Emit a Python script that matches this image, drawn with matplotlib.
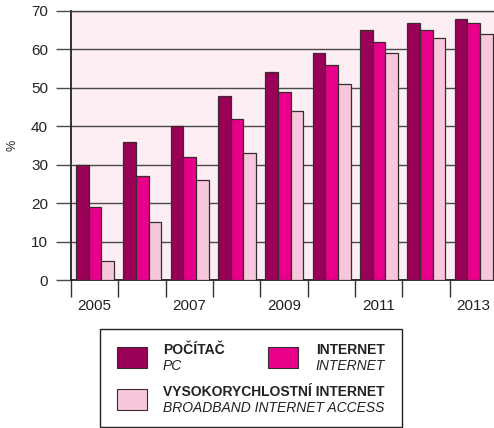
import matplotlib
matplotlib.use('Agg')
import matplotlib.pyplot as plt
from matplotlib.patches import Rectangle

plt.rcParams['font.family'] = ['Liberation Sans', 'DejaVu Sans']

years = [2005, 2006, 2007, 2008, 2009, 2010, 2011, 2012, 2013]
pc = [30, 36, 40, 48, 54, 59, 65, 67, 68]
internet = [19, 27, 32, 42, 49, 56, 62, 65, 67]
broadband = [5, 15, 26, 33, 44, 51, 59, 63, 64]

colors = ['#9b0058', '#e8008a', '#f7c8db']
W, H = 494, 428

fig = plt.figure(figsize=(W / 100, H / 100), dpi=100)
ax = fig.add_axes([71 / W, 1 - 280 / H, 426 / W, 269 / H])
ax.set_facecolor('#fdeef4')

bw = 0.268
off = 0.106
for k, (vals, c) in enumerate(zip([pc, internet, broadband], colors)):
    xs = [i + off + k * bw for i in range(len(years))]
    ax.bar(xs, vals, width=bw, align='edge', color=c, edgecolor='#3a2a30',
           linewidth=0.9, zorder=3)

ax.set_xlim(0, len(years))
ax.set_ylim(0, 70)
ax.set_yticks(range(0, 71, 10))
ax.grid(axis='y', color='#4a4a4a', linewidth=1.0, zorder=1)
ax.set_axisbelow(True)

# major ticks at group edges, labels on minor ticks at group centres
ax.set_xticks(range(len(years) + 1))
ax.set_xticklabels([])
ax.set_xticks([i + 0.5 for i, y in enumerate(years) if y % 2 == 1], minor=True)
ax.set_xticklabels([str(y) for y in years if y % 2 == 1], minor=True)
ax.tick_params(axis='x', which='major', length=12, width=1.0, color='#333333')
ax.tick_params(axis='x', which='minor', length=0, pad=14, labelsize=11,
               labelcolor='#222222')
ax.tick_params(axis='y', length=11, width=1.0, color='#4a4a4a', pad=5.5,
               labelsize=11, labelcolor='#222222')

ax.spines['right'].set_visible(False)
ax.spines['left'].set_color('#222222')
ax.spines['left'].set_linewidth(1.3)
ax.spines['bottom'].set_color('#222222')
ax.spines['bottom'].set_linewidth(1.3)
ax.spines['top'].set_color('#444444')
ax.spines['top'].set_linewidth(1.0)

fig.text(12 / W, 1 - 145 / H, '%', rotation=90, ha='center', va='center',
         fontsize=9, color='#222222')


def px(x, y):
    return x / W, 1 - y / H


# legend box
fig.patches.append(Rectangle(px(100, 427), 302 / W, 98 / H, transform=fig.transFigure,
                             facecolor='white', edgecolor='#222222', linewidth=1.0))

legend_items = [
    (colors[0], 117, 347, 'POČÍTAČ', 'PC', 163, 'left'),
    (colors[1], 268, 347, 'INTERNET', 'INTERNET', 385, 'right'),
    (colors[2], 117, 389, 'VYSOKORYCHLOSTNÍ INTERNET', 'BROADBAND INTERNET ACCESS', 163, 'left'),
]
for c, x0, y0, t1, t2, tx, ha in legend_items:
    fig.patches.append(Rectangle(px(x0, y0 + 21), 30 / W, 21 / H, transform=fig.transFigure,
                                 facecolor=c, edgecolor='#3a2a30', linewidth=0.8))
    fig.text(*px(tx, y0 + 3), t1, ha=ha, va='center', fontsize=10, fontweight='bold',
             color='#222222')
    fig.text(*px(tx, y0 + 19), t2, ha=ha, va='center', fontsize=10, style='italic',
             color='#222222')

fig.savefig('out.png', dpi=100)
